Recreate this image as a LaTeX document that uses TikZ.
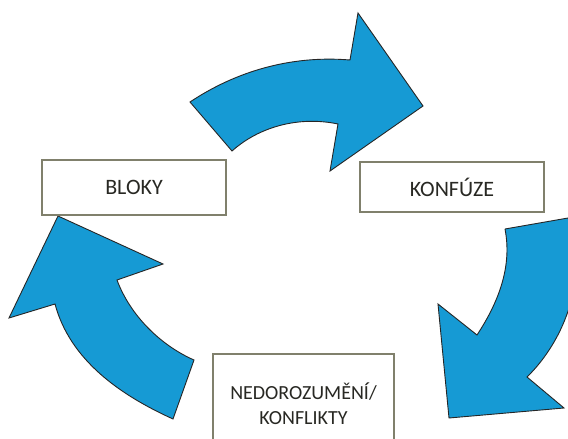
\documentclass[tikz,border=0pt]{standalone}
\usepackage{fontspec}
\setmainfont{Carlito}
\definecolor{arrowblue}{RGB}{22,154,212}
\definecolor{boxline}{RGB}{128,128,108}
\definecolor{txt}{RGB}{40,40,35}
\begin{document}
\begin{tikzpicture}[x=1pt,y=-1pt,
  box/.style={draw=boxline,line width=1.5pt,fill=white,text=txt,
    font=\fontsize{22}{25}\selectfont,align=center,inner sep=0pt},
  bigarrow/.style={fill=arrowblue,draw=black!85,line width=0.9pt,line join=miter}]
\useasboundingbox (0,0) rectangle (568,439);
\clip (0,0) rectangle (568,439);
\fill[white] (0,0) rectangle (568,439);
% top arrow
\path[bigarrow] (190,102) .. controls (235,72) and (290,55) .. (350,60)
  -- (358,13) -- (423,106) -- (330,171) -- (338,124)
  .. controls (300,116) and (260,126) .. (232,151) -- cycle;
% right arrow
\path[bigarrow] (505,229) -- (568,218)
  .. controls (590,275) and (565,340) .. (527,377)
  -- (564,408) -- (449,418) -- (438,304) -- (477,335)
  .. controls (500,300) and (512,265) .. (505,229);
% left arrow
\path[bigarrow] (173,419) .. controls (120,395) and (70,360) .. (55,304)
  -- (9,318) -- (58,216) -- (163,264) -- (117,280)
  .. controls (130,315) and (160,345) .. (194,360) -- cycle;
% boxes
\node[box,minimum width=184pt,minimum height=55pt] (bloky) at (134,187.5) {BLOKY};
\node[box,minimum width=184pt,minimum height=50pt] (konfuze) at (452,187) {KONFÚZE};
\node[box,font=\fontsize{20}{25}\selectfont,minimum width=181pt,minimum height=100pt] (nedor) at (303.5,404) {NEDOROZUMĚNÍ/\\KONFLIKTY};
\end{tikzpicture}
\end{document}
